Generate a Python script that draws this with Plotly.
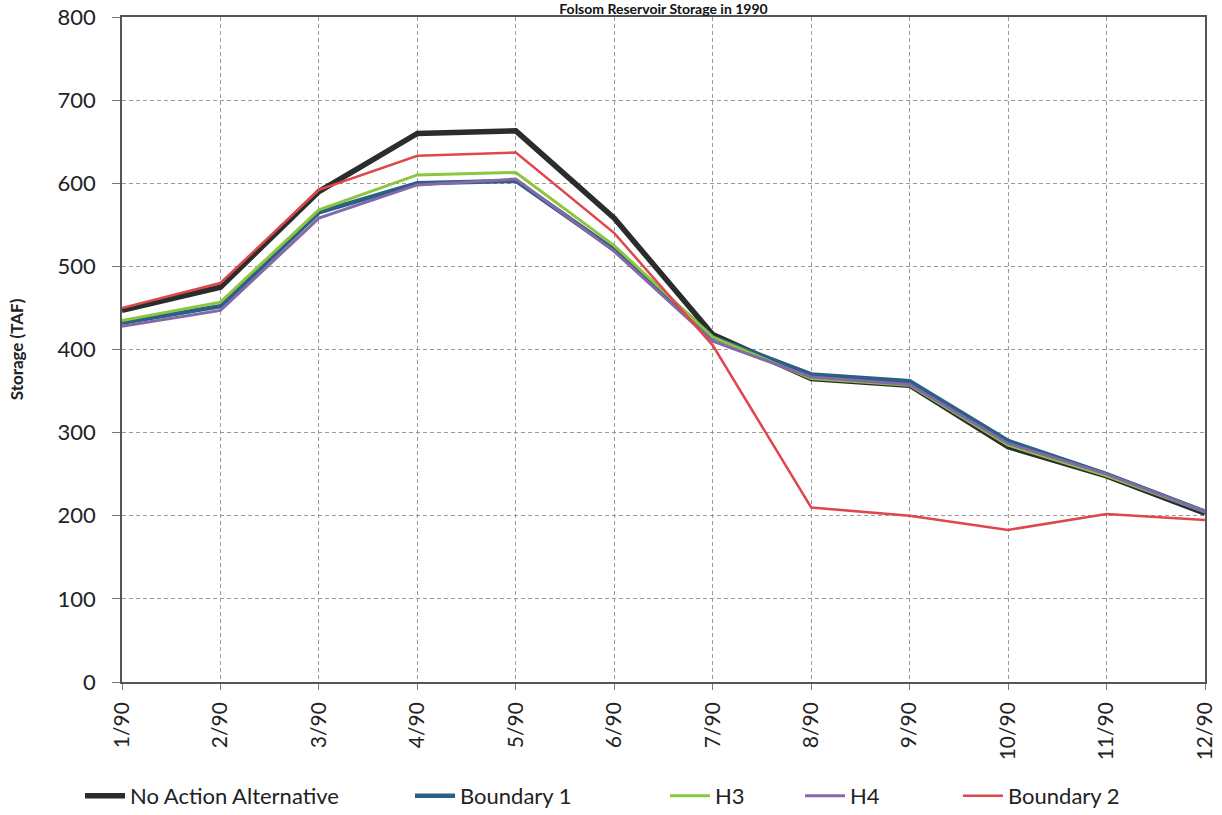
import plotly.graph_objects as go

months = ["1/90", "2/90", "3/90", "4/90", "5/90", "6/90", "7/90", "8/90", "9/90", "10/90", "11/90", "12/90"]
no_action = [447, 475, 590, 660, 663, 558, 418, 365, 357, 283, 248, 203]
boundary1 = [432, 452, 565, 600, 603, 520, 415, 370, 362, 290, 250, 205]
h3 = [435, 457, 568, 610, 613, 525, 415, 365, 357, 285, 248, 205]
h4 = [428, 447, 558, 598, 605, 518, 410, 367, 358, 287, 250, 205]
boundary2 = [450, 480, 592, 633, 637, 540, 405, 210, 200, 183, 202, 195]

series = [
    ("No Action Alternative", no_action, "#2a2d2c", 5.5),
    ("Boundary 1", boundary1, "#2a5f86", 4.5),
    ("H3", h3, "#8cc63e", 3),
    ("H4", h4, "#8468a8", 3),
    ("Boundary 2", boundary2, "#e0474c", 2.5),
]
legend_x_px = [80, 410, 665, 800, 958]

fig = go.Figure()
legend_layouts = {}
for i, (name, vals, color, w) in enumerate(series):
    key = "legend" if i == 0 else f"legend{i+1}"
    fig.add_trace(go.Scatter(x=months, y=vals, mode="lines", name=name,
                             line=dict(color=color, width=w), legend=key))
    legend_layouts[key] = dict(
        orientation="h", x=legend_x_px[i] / 1222, xref="container",
        y=1 - 796 / 815, yref="container", yanchor="middle", xanchor="left",
        font=dict(size=22, family="Lato, sans-serif", color="#222"),
        bgcolor="rgba(0,0,0,0)", itemwidth=40,
    )

font_family = "Lato, 'Open Sans', sans-serif"
fig.update_layout(
    width=1222, height=815,
    paper_bgcolor="white", plot_bgcolor="white",
    margin=dict(l=122, r=17, t=17, b=133, autoexpand=False),
    font=dict(family=font_family, color="#222", size=21),
    title=dict(text="<b>Folsom Reservoir Storage in 1990</b>", x=0.5, xanchor="center",
               xref="paper", y=1 - 4 / 815, yref="container", yanchor="top",
               pad=dict(t=0, b=0),
               font=dict(size=14, family="Lato, sans-serif", color="#111")),
    showlegend=True,
    **legend_layouts,
)
fig.update_xaxes(
    type="category", range=[0, 11], tickangle=-90,
    showgrid=True, gridcolor="#9a9a9a", griddash="4px,3px", gridwidth=1,
    showline=True, linecolor="#555", linewidth=1.5, mirror=True,
    ticks="outside", ticklen=6, tickcolor="#777", ticklabelstandoff=4,
    tickfont=dict(size=21),
)
fig.update_yaxes(
    range=[0, 800], dtick=100,
    showgrid=True, gridcolor="#9a9a9a", griddash="4px,3px", gridwidth=1,
    showline=True, linecolor="#555", linewidth=1.5, mirror=True,
    ticks="outside", ticklen=8, tickcolor="#777", ticklabelstandoff=12,
    zeroline=False,
    title=dict(text="<b>Storage (TAF)</b>", font=dict(size=17), standoff=30),
    tickfont=dict(size=22),
)

fig.write_html("out.html", config={"displayModeBar": False},
               post_script="document.body.style.margin='0px';")
